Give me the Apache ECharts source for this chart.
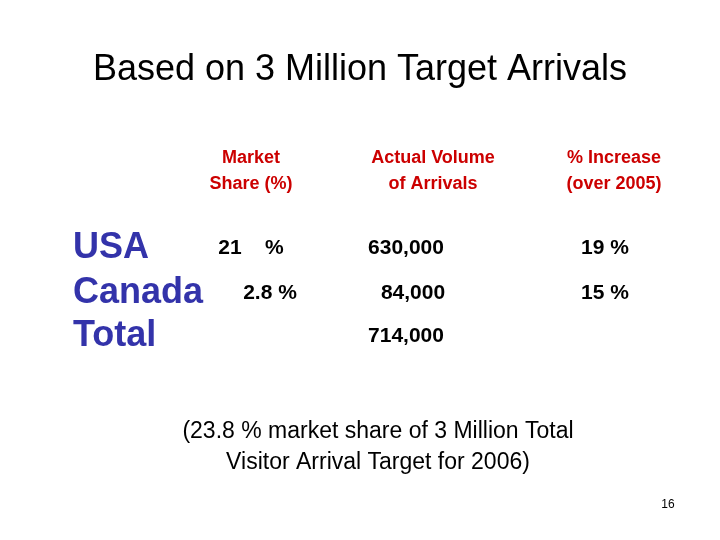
<!DOCTYPE html>
<html><head><meta charset="utf-8">
<script src="https://cdn.jsdelivr.net/npm/echarts@6/dist/echarts.min.js"></script>
<style>html,body{margin:0;background:#fff}#c{width:720px;height:540px}</style>
</head><body><div id="c"></div>
<script>
const title = 'Based on 3 Million Target Arrivals';
const headers = ['Market\nShare (%)', 'Actual Volume\nof Arrivals', '% Increase\n(over 2005)'];
const categories = ['USA', 'Canada', 'Total'];
const marketShare = ['21    %', '2.8 %', ''];
const arrivals = ['630,000', '84,000', '714,000'];
const increase = ['19 %', '15 %', ''];
const footnote = '(23.8 % market share of 3 Million Total\nVisitor Arrival Target for 2006)';
const pageNo = '16';

const F = '"Liberation Sans", Arial, sans-serif';
const colX = [251, 433, 614];
const rowY = [248, 293, 336];
const valX = [[251, 270, 0], [406, 413, 406], [605, 605, 0]];
const els = [];
function t(x, y, text, size, color, weight, align, lh) {
  els.push({type:'text', x, y, style:{text, font:`${weight||'normal'} ${size}px ${F}`, fill:color, align:align||'center', verticalAlign:'middle', lineHeight:lh||size*1.35}});
}
t(360, 70, title, 36, '#000');
headers.forEach((h,i)=>t(colX[i], 171, h, 18, '#CC0000', 'bold', 'center', 26));
categories.forEach((c,i)=>t(73, rowY[i], c, 36, '#3333AA', 'bold', 'left'));
[marketShare, arrivals, increase].forEach((col,j)=>col.forEach((v,i)=>{ if(v) t(valX[j][i], rowY[i], v, 21, '#000', 'bold'); }));
t(378, 447, footnote, 23, '#000', 'normal', 'center', 31);
t(668, 505, pageNo, 12, '#000');

const chart = echarts.init(document.getElementById('c'));
chart.setOption({backgroundColor:'#fff', graphic: els});
</script></body></html>
